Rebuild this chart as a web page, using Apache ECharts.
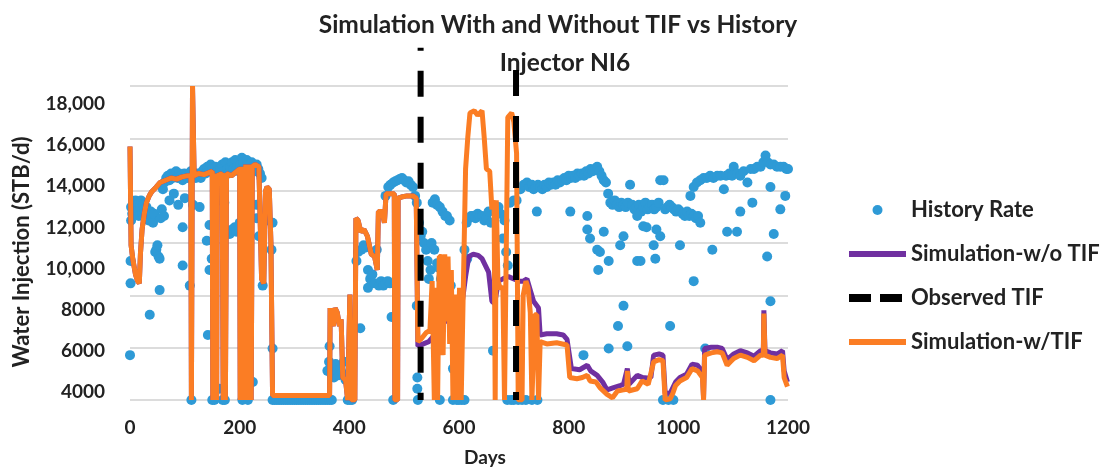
<!DOCTYPE html>
<html><head><meta charset="utf-8">
<script src="https://cdn.jsdelivr.net/npm/echarts@6/dist/echarts.min.js"></script>
<style>html,body{margin:0;padding:0;background:#fff}#c{width:1115px;height:472px}</style>
</head><body><div id="c"></div>
<script>
// ---- data ----
const titleLines = ['Simulation With and Without TIF vs History', 'Injector NI6'];
const xTickValues = [0, 200, 400, 600, 800, 1000, 1200];
const xTickLabels = ['0', '200', '400', '600', '800', '1000', '1200'];
const yTickLabels = ['4000', '6000', '8000', '10,000', '12,000', '14,000', '16,000', '18,000'];
const yTickValues = [4000, 6000, 8000, 10000, 12000, 14000, 16000, 18000];

// History Rate: [day, STB/d]
const historyRate = [
[0,6000],[1,9200],[1,10200],[2,12000],[2,12600],[4,12300],[6,12800],[8,12500],[10,12900],[12,12400],[14,12700],[16,12200],[18,12600],[20,12900],[22,12300],[24,12700],[26,12500],[28,12100],[30,12600],[32,12300],[34,12000],[36,7800],[38,12400],[40,12200],[42,11900],[44,12300],[46,10600],[48,10700],[50,10900],[52,10400],[54,8900],[54,10300],[56,12100],[58,12500],
[60,13400],[63,13700],[66,13900],[69,14000],[72,13800],[75,14100],[78,13900],[81,14000],[84,14200],[87,13900],[90,14100],[93,14000],[96,13800],[99,14100],[102,14000],[105,13900],[108,14100],[111,14200],[114,14000],[117,14100],[120,13900],[123,14100],[126,14000],[129,13900],[132,14200],[135,14300],[138,14100],[141,14400],[144,14200],[147,14500],[150,14300],[153,14100],[156,14400],[159,14200],[162,14000],[165,14300],[168,14500],[171,14200],[174,14600],[177,14300],[180,14100],[183,14400],[186,14600],[189,14300],[192,14700],[195,14400],[198,14200],[201,14500],[204,14800],[207,14600],[210,14400],[213,14700],[216,14500],[219,14300],[222,14600],[225,14400],[228,14200],[231,14500],[234,14300],[237,14100],[240,13900],
[62,12200],[72,12900],[80,13200],[88,12700],[96,11700],[96,10000],[100,13000],[109,9100],[115,12700],[127,12600],[140,11100],[142,6900],[145,11800],[145,9800],[149,10300],[163,4500],[165,12900],[172,12800],[176,11500],[182,11400],[186,11600],[191,11700],[194,11500],[200,11900],[206,12100],[224,4800],[231,12100],[231,12700],[235,11300],[242,9100],[252,12000],[258,10700],[260,11900],[260,6300],
[112,4000],[150,4000],[154,4000],[169,4000],[173,4000],[205,4000],[215,4000],
[260,4000],[264,4000],[268,4000],[272,4000],[276,4000],[280,4000],[284,4000],[288,4000],[292,4000],[296,4000],[300,4000],[304,4000],[308,4000],[312,4000],[316,4000],[320,4000],[324,4000],[328,4000],[332,4000],[336,4000],[340,4000],[344,4000],[348,4000],[352,4000],[356,4000],[360,4000],[364,4000],[368,4000],[397,4000],[401,4000],[405,4000],
[360,5300],[363,5700],[366,5200],[369,5500],[372,5000],[375,5600],[378,5300],[381,5100],[384,5400],[387,5200],[364,6400],[390,5700],[393,4900],
[413,10200],[416,10600],[420,7200],[422,10700],[426,10900],[430,10800],[434,9800],[434,9000],[438,9400],[442,9600],[446,9200],[450,10700],[454,9100],[458,9300],[462,9100],[466,9200],[470,9300],[474,9200],[477,7700],[466,13100],[471,13500],[475,13600],[480,4000],
[480,13700],[484,13750],[488,13800],[492,13850],[496,13900],[500,13800],[504,13700],[508,13750],[512,13600],[516,13500],[520,13100],[523,12800],[525,4000],[523,8200],[524,5000],[524,4500],[527,11900],[530,11300],[533,11500],[536,11000],
[540,10700],[543,10200],[548,9800],[552,12800],[556,12950],[560,12700],[565,12600],[565,4000],[570,12400],[575,12200],[578,12200],[583,12000],[545,9400],[550,11000],[555,10700],[560,10100],[563,9900],[567,9400],[570,9200],[575,9500],[580,9300],[585,9100],[589,5400],[589,4000],[596,4000],[600,4000],
[605,4000],[610,4000],[614,11900],[618,12100],[622,12200],[626,12200],[630,12100],[634,12300],[638,12200],[642,12200],[646,12000],[650,12100],[654,12400],[658,11900],[662,6200],[665,12500],[669,12500],[672,12600],[676,12300],[680,11200],[683,12000],[686,10600],[689,10000],[693,12800],[700,12900],[705,12900],[610,10700],[615,10300],
[688,4000],[695,4000],[700,4000],[708,4000],[715,4000],[722,4000],[733,4000],[743,4000],
[712,13400],[718,13600],[724,13700],[728,13500],[733,13600],[736,13400],[740,13500],[744,13600],[748,13500],[752,13400],[756,13600],[760,13500],[764,13700],[768,13600],[772,13700],[776,13600],[780,13800],[784,13700],[788,13800],[792,13900],[796,13800],[800,14000],[804,13900],[808,14000],[812,13900],[816,14100],[820,14000],[824,14100],[828,14000],[832,14200],[836,14100],[840,14300],[844,14200],[848,14300],[852,14400],[856,14200],[860,14000],[864,13800],[868,13700],
[742,12400],[803,12400],[827,6000],[834,12200],[834,11600],[839,11200],[852,10700],[857,10600],[864,11500],[873,10200],[854,9800],[873,6300],[890,7300],[900,8200],[907,6400],
[872,13200],[876,12800],[880,12700],[884,12900],[888,12700],[892,12600],[896,12800],[900,12700],[904,12600],[908,12800],[912,13600],[916,12700],[920,12500],[924,12600],[928,12700],[932,12400],[936,12600],[940,12800],[944,12500],[948,12600],[952,12700],[956,12500],[960,12600],[964,12800],[967,13800],[973,13800],[976,12500],[980,12600],[984,12700],[988,12600],[992,12500],[996,12400],[1000,12500],[1004,12400],[1008,12300],[1012,12200],[1016,12400],[1020,12200],[1024,12300],[1028,12200],[1032,12100],[1036,12200],[1040,11900],
[894,10900],[900,11300],[925,10200],[925,12200],[936,11750],[942,11700],[931,10200],[955,10900],[958,10300],[960,11600],[967,11300],[985,7300],[1003,10900],[1028,9300],[1049,6300],[1062,10700],[972,4000],[982,4000],[991,4000],[1089,11500],[1107,11500],[1113,12400],[1135,12800],[1162,10400],[1168,8400],[1168,4000],[1174,11400],[1186,12500],[1195,13100],[1168,13500],
[1022,13100],[1028,13500],[1034,13700],[1040,13800],[1046,13900],[1052,13900],[1058,14000],[1064,13900],[1071,14000],[1077,14000],[1083,13400],[1087,14000],[1093,14100],[1098,14000],[1101,14400],[1107,14100],[1113,14000],[1119,14200],[1126,13700],[1132,14300],[1138,14300],[1144,14400],[1150,14400],[1155,14600],[1159,14900],[1163,14600],[1168,14500],[1174,14500],[1180,14400],[1186,14400],[1192,14400],[1197,14300],[1200,14300]
];

// Both simulations overlap before the observed TIF
const simBeforeTIF = [
[0,15300],[1,15300],[2,10900],[5,10300],[10,9600],[14,9300],[17,9200],[19,10500],[22,11600],[26,12300],[30,12800],[35,13100],[40,13300],[48,13500],[55,13700],[65,13800],[75,13900],[85,13850],[95,13950],[105,14000],[111,14000],[112,4000],[113,4000],[114,18000],[116,18000],[117,14000],[125,14100],[135,14050],[145,14150],[150,14200],[151,4000],[153,4000],[154,14100],[157,14100],[158,4000],[159,14000],[168,14100],[170,4000],[172,14000],[174,4000],[176,14100],[185,14000],[195,14200],[200,14300],[201,4000],[203,14400],[205,4000],[207,14400],[209,4000],[211,14500],[213,4000],[215,14400],[217,4000],[219,14500],[221,4000],[223,14400],[228,14500],[235,14400],[238,14400],[240,9400],[244,9200],[247,13300],[250,13500],[254,13400],[257,11000],[260,4200],
[300,4200],[364,4200],[365,8100],[368,7500],[371,7300],[374,8100],[378,7900],[382,7300],[385,7600],[388,5000],[393,4900],[396,4900],[397,4000],[400,4000],[401,8700],[403,8700],[404,4000],[410,4000],[412,12100],[416,12000],[421,11500],[427,11600],[433,11300],[440,10500],[446,10400],[451,9800],[453,12400],[460,12400],[464,11900],[467,13200],[475,13200],[482,13200],[483,4000],[488,4000],[489,13000],[495,13050],[505,13100],[516,13100],[522,13000]
];
const simWithoutTIFAfter = [
[525,6400],[535,6500],[545,6600],[555,6900],[565,7300],[575,7500],[585,7900],[590,8300],[595,7400],[600,7800],[605,8200],[612,9500],[618,10400],[626,10500],[635,10450],[642,10300],[648,10000],[654,9700],[660,8400],[665,8300],[672,9300],[680,9400],[690,9500],[700,9400],[710,9300],[717,9300],[724,9400],[730,8900],[736,8400],[745,8100],[748,6900],[760,6950],[778,6950],[790,6900],[797,6700],[805,5400],[820,5350],[834,5550],[840,5300],[852,5100],[862,4800],[870,4450],[882,4550],[895,4650],[900,4700],[907,5400],[910,4700],[925,5100],[935,5000],[943,4980],[950,5000],[955,6000],[965,6050],[972,6000],[976,4300],[985,4300],[995,4800],[1003,5000],[1015,5150],[1025,5600],[1035,5550],[1044,5250],[1046,4100],[1048,6300],[1060,6350],[1071,6350],[1080,6300],[1089,5800],[1101,6050],[1113,6200],[1126,6100],[1138,5950],[1150,6200],[1155,6200],[1156,8000],[1158,6200],[1168,6100],[1180,6050],[1190,6200],[1193,5300],[1199,4800]
];
const simWithTIFAfter = [
[525,6600],[532,6750],[540,7000],[547,7100],[551,9300],[555,4000],[558,9000],[561,4000],[564,10400],[568,10400],[571,6000],[574,10500],[577,7500],[580,10400],[583,6500],[586,9800],[589,4000],[592,8700],[595,4000],[598,4000],[601,9000],[604,4000],[607,4000],[612,14300],[616,15700],[620,16800],[628,16900],[634,16700],[642,16900],[646,15700],[650,14300],[656,14200],[660,12500],[664,12900],[666,4000],[668,12900],[671,9300],[675,9000],[680,9000],[683,4000],[686,4000],[689,16600],[696,16800],[700,16400],[705,15000],[708,4000],[715,4000],[717,8650],[722,9300],[726,9000],[730,7900],[733,4000],[738,7800],[742,7800],[745,4000],[748,6600],[760,6500],[778,6550],[797,6450],[802,5000],[815,4950],[825,5000],[834,5100],[839,4850],[850,4800],[857,4550],[870,4250],[880,4100],[889,4400],[900,4450],[906,4500],[907,5300],[909,4400],[925,4500],[934,4850],[945,4700],[955,5700],[965,5800],[972,5750],[976,4000],[985,4050],[990,4300],[995,4650],[1003,4850],[1015,5000],[1025,5400],[1035,5300],[1044,5000],[1046,4000],[1048,6000],[1060,6100],[1071,6150],[1080,6100],[1089,5550],[1095,5700],[1101,5850],[1113,6000],[1126,5900],[1138,5750],[1150,6000],[1155,6000],[1156,7850],[1158,6000],[1168,5900],[1180,5850],[1190,6000],[1193,5000],[1199,4600]
];
// Observed TIF: two vertical markers (days), their top and bottom values
const tifDays = [530, 704];
const tifTops = [19700, 18800];
const tifBottom = 4000;

// ---- chart ----
const FONT = 'Lato';
const TXT = '#222';
const tifDashOffsets = [23, 44];
const chart = echarts.init(document.getElementById('c'), null, {renderer: 'canvas'});
const tifSeries = tifDays.map((d, i) => ({
  name: 'Observed TIF', type: 'line', xAxisIndex: 0, yAxisIndex: 0,
  data: [[d, tifTops[i]], [d, tifBottom]],
  symbol: 'none', clip: false, z: 6,
  itemStyle: {color: '#000'},
  lineStyle: {color: '#000', width: 6, type: [26, 20], dashOffset: tifDashOffsets[i]}
}));
const hideSym = {opacity: 0};
chart.setOption({
  animation: false,
  backgroundColor: '#fff',
  textStyle: {fontFamily: FONT},
  title: [
    {text: titleLines[0], left: 553, top: 8, textAlign: 'center',
     textStyle: {fontFamily: FONT, fontSize: 24.5, fontWeight: 'bold', color: TXT}},
    {text: titleLines[1], left: 560, top: 46, textAlign: 'center',
     textStyle: {fontFamily: FONT, fontSize: 24.5, fontWeight: 'bold', color: TXT}}
  ],
  legend: {
    orient: 'vertical', left: 840, top: 194,
    itemWidth: 57, itemHeight: 10, itemGap: 22,
    textStyle: {fontFamily: FONT, fontSize: 22, fontWeight: 'bold', color: TXT, lineHeight: 22},
    lineStyle: {width: 6},
    data: [
      {name: 'History Rate', icon: 'circle'},
      {name: 'Simulation-w/o TIF', itemStyle: hideSym},
      {name: 'Observed TIF', itemStyle: hideSym, lineStyle: {type: [22, 9], dashOffset: 0, width: 8}},
      {name: 'Simulation-w/TIF', itemStyle: hideSym}
    ]
  },
  grid: [
    {left: 130, right: 327, top: 86, bottom: 70},
    {left: 130, right: 327, top: 104, bottom: 80}
  ],
  xAxis: [
    {type: 'value', gridIndex: 0, min: 0, max: 1200, interval: 200,
     axisLine: {show: false}, axisTick: {show: false}, splitLine: {show: false},
     axisLabel: {fontFamily: FONT, fontSize: 19, fontWeight: 'bold', color: TXT, margin: 18,
       formatter: v => { const i = xTickValues.indexOf(v); return i >= 0 ? xTickLabels[i] : ''; }},
     name: 'Days', nameLocation: 'middle', nameGap: 48,
     nameTextStyle: {fontFamily: FONT, fontSize: 19, fontWeight: 'bold', color: TXT, padding: [0, 0, 0, 52]}},
    {type: 'value', gridIndex: 1, min: 0, max: 1200, show: false}
  ],
  yAxis: [
    {type: 'value', gridIndex: 0, min: 4000, max: 18000, interval: 14000 / 6,
     axisLabel: {show: false}, axisLine: {show: false}, axisTick: {show: false},
     splitLine: {show: true, lineStyle: {color: '#dcdcdc', width: 2}}},
    {type: 'value', gridIndex: 1, min: 4000, max: 18000, interval: 2000,
     axisLine: {show: false}, axisTick: {show: false}, splitLine: {show: false},
     axisLabel: {fontFamily: FONT, fontSize: 19, fontWeight: 'bold', color: TXT, margin: 25,
       formatter: v => { const i = yTickValues.indexOf(v); return i >= 0 ? yTickLabels[i] : ''; }},
     name: 'Water Injection (STB/d)', nameLocation: 'middle', nameGap: 97,
     nameTextStyle: {fontFamily: FONT, fontSize: 22, fontWeight: 'bold', color: TXT, padding: [0, 8, 0, 0]}}
  ],
  series: [
    {name: 'History Rate', type: 'scatter', xAxisIndex: 0, yAxisIndex: 0, data: historyRate,
     symbolSize: 10, itemStyle: {color: '#2E9AD6', opacity: 1}, z: 2},
    {name: 'Simulation-w/o TIF', type: 'line', xAxisIndex: 0, yAxisIndex: 0,
     data: simBeforeTIF.concat(simWithoutTIFAfter), symbol: 'none',
     lineStyle: {color: '#7030A0', width: 5}, itemStyle: {color: '#7030A0'}, z: 3},
    {name: 'Simulation-w/TIF', type: 'line', xAxisIndex: 0, yAxisIndex: 0,
     data: simBeforeTIF.concat(simWithTIFAfter), symbol: 'none',
     lineStyle: {color: '#FB7D24', width: 5}, itemStyle: {color: '#FB7D24'}, z: 4},
    ...tifSeries,
    {type: 'scatter', xAxisIndex: 1, yAxisIndex: 1, data: [], silent: true}
  ]
});
</script></body></html>
